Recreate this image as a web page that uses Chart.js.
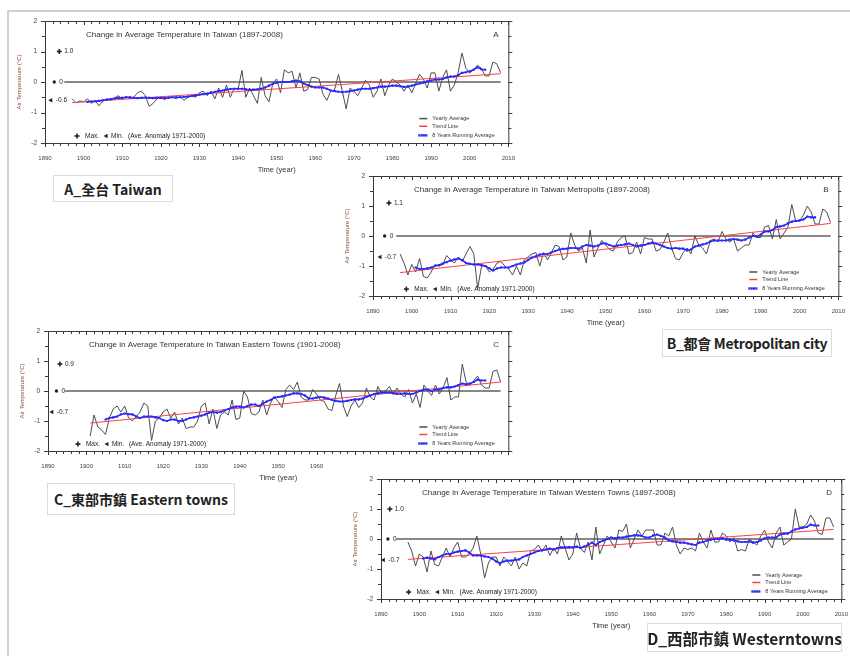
<!DOCTYPE html>
<html>
<head>
<meta charset="utf-8">
<script src="https://cdn.jsdelivr.net/npm/chart.js@4/dist/chart.umd.min.js"></script>
<style>
  body { margin: 0; width: 850px; height: 656px; background: #fff; position: relative; overflow: hidden; }
  .rule-top { position: absolute; z-index: 5; left: 7px; top: 10px; width: 843px; height: 2px; background: #d0d0d0; }
  .rule-left { position: absolute; z-index: 5; left: 7px; top: 10px; width: 2px; height: 646px; background: #d0d0d0; }
  canvas { position: absolute; background: #fff; }
  .tag {
    position: absolute; box-sizing: border-box; background: #fff;
    border: 1px solid #dcdcdc; display: flex; align-items: center; justify-content: center;
    font-family: "Noto Sans CJK TC", "Noto Sans", sans-serif; font-weight: bold; color: #222;
    white-space: nowrap;
  }
</style>
</head>
<body>
<canvas id="cA"></canvas>
<canvas id="cB"></canvas>
<canvas id="cC"></canvas>
<canvas id="cD"></canvas>
<div class="rule-top"></div>
<div class="rule-left"></div>
<div class="tag" style="left:53px;top:175px;width:120px;height:27px;font-size:14px">A_全台 Taiwan</div>
<div class="tag" style="left:662px;top:329px;width:170px;height:28px;font-size:14px;letter-spacing:-0.3px">B_都會 Metropolitan city</div>
<div class="tag" style="left:47px;top:483px;width:188px;height:32px;font-size:14px">C_東部市鎮 Eastern towns</div>
<div class="tag" style="left:647px;top:623px;width:195px;height:29px;font-size:15.5px">D_西部市鎮 Westerntowns</div>
<script>
// ---- data (temperature anomaly, °C) ----
const X_MIN = 1890, X_MAX = 2010
const Y_MIN = -2, Y_MAX = 2

// A: Taiwan, yearly 1897-2008, running avg 1901-2004
const A_YEARLY = [
  -0.55,-0.68,-0.62,-0.65,-0.55,-0.70,-0.62,-0.78,-0.62,-0.55,
  -0.60,-0.52,-0.45,-0.55,-0.48,-0.55,-0.50,-0.35,-0.30,-0.45,
  -0.80,-0.70,-0.55,-0.50,-0.58,-0.48,-0.50,-0.55,-0.48,-0.60,
  -0.50,-0.45,-0.50,-0.35,-0.30,-0.45,-0.30,-0.55,-0.20,-0.50,
  -0.10,-0.50,-0.20,-0.25,0.38,-0.50,-0.20,-0.45,-0.70,0.15,
  -0.45,-0.65,-0.05,0.10,-0.35,0.40,0.30,0.35,-0.20,0.30,
  -0.30,-0.25,0.15,0.15,0.10,-0.40,-0.60,-0.30,-0.25,0.25,
  -0.30,-0.88,-0.20,-0.30,-0.45,-0.20,0.05,-0.10,-0.50,-0.30,
  0.10,-0.45,-0.10,0.10,0.00,-0.10,-0.30,-0.10,-0.35,-0.05,
  0.25,0.10,-0.20,0.30,0.30,-0.30,0.15,0.40,-0.30,-0.10,
  0.30,0.95,0.45,0.30,0.40,0.55,0.45,0.20,0.20,0.65,
  0.60,0.30
]
const A_RUNNING = [
  -0.65,-0.64,-0.63,-0.62,-0.60,-0.58,-0.56,-0.54,-0.52,-0.52,
  -0.50,-0.50,-0.52,-0.53,-0.52,-0.51,-0.52,-0.53,-0.52,-0.52,
  -0.53,-0.52,-0.50,-0.50,-0.50,-0.49,-0.48,-0.46,-0.44,-0.42,
  -0.40,-0.38,-0.35,-0.32,-0.30,-0.28,-0.25,-0.23,-0.22,-0.22,
  -0.22,-0.24,-0.26,-0.25,-0.24,-0.22,-0.18,-0.12,-0.06,-0.02,
  0.00,0.00,0.00,0.02,0.05,0.02,-0.05,-0.10,-0.15,-0.18,
  -0.18,-0.18,-0.22,-0.28,-0.30,-0.32,-0.33,-0.32,-0.30,-0.28,
  -0.25,-0.22,-0.22,-0.22,-0.20,-0.18,-0.15,-0.15,-0.14,-0.12,
  -0.12,-0.14,-0.16,-0.15,-0.12,-0.08,-0.05,-0.02,0.02,0.05,
  0.08,0.08,0.10,0.15,0.18,0.18,0.22,0.30,0.32,0.35,
  0.40,0.48,0.42,0.40
]
const A_TREND = [-0.68, 0.27]
const A_MAXMIN = ['1.0', '0', '-0.6']

// B: Metropolis, yearly 1897-2008
const B_YEARLY = [
  -0.60,-0.90,-1.30,-0.95,-1.20,-0.75,-1.35,-1.40,-1.20,-0.95,
  -1.00,-0.95,-0.65,-0.80,-0.90,-0.70,-0.85,-0.60,-0.35,-0.60,
  -1.75,-1.00,-1.00,-1.20,-1.10,-0.90,-0.85,-1.00,-1.10,-1.30,
  -1.00,-1.30,-0.80,-0.70,-0.60,-0.55,-1.00,-0.55,-0.80,-0.55,
  -0.30,-0.35,-0.80,-0.70,0.10,-0.30,-0.50,-0.40,-0.90,0.20,
  -0.70,-0.40,-0.15,-0.30,-0.45,-0.50,-0.20,-0.05,0.00,-0.60,
  -0.55,-0.20,-0.60,-0.05,-0.10,-0.10,-0.50,-0.45,-0.20,0.10,
  -0.40,-0.75,-0.80,-0.55,-0.40,-0.60,0.00,-0.30,-0.40,-0.60,
  -0.15,-0.10,-0.20,0.15,-0.10,-0.20,-0.10,-0.50,-0.40,-0.30,
  -0.30,0.10,-0.05,-0.05,0.30,0.35,-0.10,0.55,-0.10,0.10,
  0.30,1.05,0.50,0.50,0.70,1.00,0.80,0.40,0.40,0.90,
  0.80,0.45
]
const B_RUNNING = [
  -1.05,-1.10,-1.10,-1.08,-1.05,-1.00,-0.97,-0.92,-0.87,-0.82,
  -0.78,-0.75,-0.80,-0.90,-0.93,-0.95,-0.95,-0.97,-1.00,-1.08,
  -1.15,-1.08,-1.05,-1.05,-1.05,-1.00,-0.95,-0.92,-0.88,-0.80,
  -0.72,-0.68,-0.62,-0.60,-0.60,-0.55,-0.50,-0.45,-0.43,-0.42,
  -0.40,-0.40,-0.42,-0.35,-0.30,-0.32,-0.35,-0.32,-0.25,-0.25,
  -0.30,-0.35,-0.32,-0.30,-0.28,-0.25,-0.30,-0.35,-0.32,-0.30,
  -0.25,-0.22,-0.25,-0.30,-0.35,-0.40,-0.42,-0.40,-0.42,-0.42,
  -0.48,-0.45,-0.35,-0.32,-0.28,-0.25,-0.18,-0.15,-0.15,-0.15,
  -0.15,-0.12,-0.10,-0.12,-0.15,-0.12,-0.05,0.00,-0.02,0.05,
  0.15,0.15,0.20,0.30,0.32,0.35,0.42,0.48,0.50,0.52,
  0.55,0.65,0.62,0.62
]
const B_TREND = [-1.22, 0.42]
const B_MAXMIN = ['1.1', '0', '-0.7']

// C: Eastern towns, yearly 1901-2008, running avg 1905-2004
const C_YEARLY = [
  -1.50,-0.80,-1.20,-1.30,-1.45,-0.90,-0.60,-0.50,-0.70,-0.50,
  -0.90,-1.00,-0.85,-0.70,-0.40,-0.50,-1.65,-1.00,-0.90,-0.70,
  -0.60,-0.90,-0.70,-1.10,-0.90,-1.25,-1.20,-1.20,-1.00,-0.50,
  -0.40,-1.10,-0.60,-1.25,-0.80,-0.70,-0.80,-0.30,-0.95,-0.90,
  0.00,-0.20,-0.75,-0.80,-0.70,-0.30,-0.80,-0.40,-0.20,-0.35,
  -0.55,0.05,0.20,0.05,0.30,-0.20,-0.30,-0.30,0.05,-0.10,
  -0.30,-0.35,-0.60,-0.65,-0.15,0.25,-0.50,-0.85,-0.50,-0.30,
  -0.55,-0.40,0.10,-0.20,-0.30,0.15,-0.10,0.00,0.15,-0.10,
  0.10,-0.10,-0.20,0.05,-0.40,-0.10,-0.55,0.20,0.00,-0.15,
  0.20,-0.10,0.10,0.45,-0.30,-0.20,-0.20,0.90,0.30,0.20,
  0.35,0.50,0.20,0.10,0.10,0.65,0.70,0.30
]
const C_RUNNING = [
  -0.95,-0.90,-0.88,-0.85,-0.78,-0.75,-0.77,-0.78,-0.85,-0.90,
  -0.85,-0.85,-0.85,-0.88,-0.90,-0.97,-1.00,-0.95,-0.95,-1.00,
  -1.00,-0.95,-0.90,-0.88,-0.85,-0.82,-0.78,-0.72,-0.70,-0.72,
  -0.70,-0.65,-0.60,-0.55,-0.52,-0.52,-0.55,-0.50,-0.45,-0.45,
  -0.50,-0.42,-0.35,-0.30,-0.22,-0.20,-0.18,-0.15,-0.12,-0.08,
  -0.08,-0.10,-0.15,-0.25,-0.25,-0.22,-0.20,-0.22,-0.25,-0.30,
  -0.33,-0.35,-0.35,-0.33,-0.30,-0.28,-0.28,-0.25,-0.20,-0.15,
  -0.10,-0.08,-0.05,-0.05,-0.05,-0.08,-0.10,-0.10,-0.08,-0.10,
  -0.10,-0.05,0.00,0.05,0.05,0.00,0.05,0.05,0.10,0.12,
  0.12,0.15,0.20,0.25,0.22,0.25,0.30,0.38,0.35,0.35
]
const C_TREND = [-1.07, 0.30]
const C_MAXMIN = ['0.9', '0', '-0.7']

// D: Western towns, yearly 1897-2008
const D_YEARLY = [
  -0.10,-0.40,-0.90,-0.50,-0.60,-1.10,-0.40,-0.85,-0.90,-0.60,
  -0.30,-0.60,-0.30,-0.10,-0.60,-0.60,-0.50,-0.30,0.10,-0.50,
  -1.30,-0.80,-0.60,-0.60,-0.90,-0.60,-0.75,-0.90,-0.60,-1.00,
  -0.80,-0.90,-0.40,-0.35,-0.20,-0.40,-0.20,-0.55,-0.30,-0.50,
  0.10,-0.30,-0.70,-0.50,0.20,-0.30,-0.45,-0.10,-0.70,0.40,
  -0.50,-0.20,0.10,-0.10,-0.30,0.30,0.25,0.50,-0.30,0.00,
  0.30,0.10,0.30,0.30,0.30,-0.20,-0.20,0.20,0.10,0.40,
  -0.20,-0.50,-0.30,-0.35,-0.30,-0.40,0.20,-0.10,-0.30,0.30,
  -0.10,-0.10,0.20,0.10,-0.10,0.05,-0.40,-0.35,-0.40,0.00,
  -0.10,-0.20,0.10,0.30,-0.10,-0.30,0.20,0.40,-0.20,-0.10,
  0.00,1.00,0.40,0.40,0.50,0.80,0.60,0.20,0.15,0.70,
  0.70,0.40
]
const D_RUNNING = [
  -0.65,-0.62,-0.65,-0.68,-0.60,-0.55,-0.50,-0.50,-0.45,-0.42,
  -0.40,-0.38,-0.45,-0.55,-0.55,-0.55,-0.58,-0.60,-0.65,-0.75,
  -0.80,-0.75,-0.72,-0.72,-0.70,-0.68,-0.60,-0.55,-0.50,-0.45,
  -0.40,-0.38,-0.35,-0.32,-0.35,-0.30,-0.28,-0.28,-0.27,-0.28,
  -0.25,-0.30,-0.25,-0.20,-0.12,-0.20,-0.10,-0.05,0.00,0.05,
  0.02,0.05,0.05,0.08,0.10,0.12,0.12,0.10,0.05,0.05,
  0.12,0.15,0.10,0.05,-0.05,-0.08,-0.10,-0.12,-0.12,-0.15,
  -0.18,-0.20,-0.12,-0.10,-0.05,-0.02,0.00,0.00,0.02,-0.02,
  -0.02,-0.05,-0.08,-0.10,-0.10,-0.08,-0.12,-0.10,-0.05,0.02,
  0.05,0.05,0.05,0.15,0.18,0.18,0.25,0.32,0.35,0.38,
  0.40,0.48,0.45,0.45
]
const D_TREND = [-0.68, 0.32]
const D_MAXMIN = ['1.0', '0', '-0.7']

const LEGEND_LABELS = ['Yearly Average', 'Trend Line', '8 Years Running Average']

// ---- styling ----
const FONT = '"Liberation Sans", Arial, sans-serif'
const INK = '#333'
const COL_YEARLY = '#4d4d4d'
const COL_TREND = '#ff4040'
const COL_RUN = '#2a2aff'

const pts = (start, vals) => vals.map((v, i) => ({ x: start + i, y: v }))

// frame, tick marks, in-plot notes and legend
const decor = {
  id: 'decor',
  afterDraw(chart, args, o) {
    const { ctx, chartArea: a, scales: { x, y } } = chart
    const seg = (x1, y1, x2, y2) => { ctx.beginPath(); ctx.moveTo(x1, y1); ctx.lineTo(x2, y2); ctx.stroke() }
    ctx.save()
    ctx.strokeStyle = '#3a3a3a'
    ctx.lineWidth = 1
    ctx.strokeRect(a.left + 0.5, a.top + 0.5, a.right - a.left, a.bottom - a.top)
    for (let yr = X_MIN; yr <= X_MAX; yr += 2) {
      const px = Math.round(x.getPixelForValue(yr)) + 0.5
      const len = yr % 10 === 0 ? 4 : 3
      seg(px, a.bottom, px, a.bottom + len)
      seg(px, a.top, px, a.top + len)
    }
    for (let v = Y_MIN; v <= Y_MAX; v += 0.5) {
      const py = Math.round(y.getPixelForValue(v)) + 0.5
      const len = Number.isInteger(v) ? 4 : 3
      seg(a.left, py, a.left - len, py)
      seg(a.right, py, a.right + len, py)
    }

    ctx.fillStyle = INK
    ctx.textBaseline = 'middle'
    ctx.textAlign = 'left'
    // title + letter
    ctx.font = `8px ${FONT}`
    ctx.fillText(o.title, a.left + 41, y.getPixelForValue(1.55))
    ctx.fillText(o.letter, a.right - 15, y.getPixelForValue(1.55))

    // max / zero / min markers
    const glyph = (kind, gx, gy) => {
      ctx.beginPath()
      if (kind === 'max') {
        ctx.lineWidth = 1.6
        seg(gx - 2.5, gy, gx + 2.5, gy)
        seg(gx, gy - 2.5, gx, gy + 2.5)
        ctx.lineWidth = 1
      } else if (kind === 'zero') {
        ctx.arc(gx, gy, 1.7, 0, Math.PI * 2)
        ctx.fill()
      } else {
        ctx.moveTo(gx - 2.5, gy)
        ctx.lineTo(gx + 1.5, gy - 2.2)
        ctx.lineTo(gx + 1.5, gy + 2.2)
        ctx.closePath()
        ctx.fill()
      }
    }
    ctx.strokeStyle = '#222'
    ctx.fillStyle = '#222'
    ctx.font = `6.5px ${FONT}`
    const kinds = ['max', 'zero', 'min']
    o.marks.forEach((label, i) => {
      const gx = x.getPixelForValue(o.markX[i])
      const gy = y.getPixelForValue(parseFloat(label))
      glyph(kinds[i], gx, gy)
      ctx.fillText(label, gx + 5, gy)
    })

    // Max / Min key
    const ky = y.getPixelForValue(-1.77)
    const kx = x.getPixelForValue(o.keyX)
    glyph('max', kx, ky)
    ctx.fillText('Max.', kx + 8, ky)
    glyph('min', kx + 29, ky)
    ctx.fillText('Min.', kx + 34, ky)
    ctx.fillText('(Ave. Anomaly 1971-2000)', kx + 51, ky)

    // legend
    const lx = a.right - 89
    ctx.font = `5.5px ${FONT}`
    const rows = [-1.2, -1.45, -1.75]
    rows.forEach((v, i) => {
      const ly = y.getPixelForValue(v)
      if (i === 0) { ctx.strokeStyle = COL_YEARLY; ctx.lineWidth = 1.5; seg(lx, ly, lx + 8, ly) }
      if (i === 1) { ctx.strokeStyle = COL_TREND; ctx.lineWidth = 1.5; seg(lx, ly, lx + 8, ly) }
      if (i === 2) {
        ctx.fillStyle = COL_RUN
        for (let k = 0; k < 4; k++) ctx.fillRect(lx + k * 2.3 - 1, ly - 1.2, 2.2, 2.4)
      }
      ctx.fillStyle = INK
      ctx.fillText(LEGEND_LABELS[i], lx + 13, ly)
    })
    ctx.restore()
  },
}

function renderPanel(p) {
  const canvas = document.getElementById(p.id)
  const [l, t, r, b] = p.area
  const w = (r - l) + 45 + 12
  const h = (b - t) + p.padTop + 36
  canvas.width = w
  canvas.height = h
  canvas.style.left = (l - 45) + 'px'
  canvas.style.top = (t - p.padTop) + 'px'

  new Chart(canvas, {
    type: 'line',
    data: {
      datasets: [
        {
          label: LEGEND_LABELS[2],
          data: pts(p.runStart, p.running),
          borderColor: COL_RUN,
          backgroundColor: COL_RUN,
          borderWidth: 1.6,
          pointStyle: 'rect',
          pointRadius: 1.5,
          pointBorderWidth: 0,
        },
        {
          label: LEGEND_LABELS[1],
          data: [{ x: p.yearStart, y: p.trend[0] }, { x: 2008, y: p.trend[1] }],
          borderColor: COL_TREND,
          borderWidth: 1,
          pointRadius: 0,
        },
        {
          label: LEGEND_LABELS[0],
          data: pts(p.yearStart, p.yearly),
          borderColor: COL_YEARLY,
          borderWidth: 1,
          pointRadius: 0,
        },
        {
          label: 'zero',
          data: [{ x: p.zeroFrom, y: 0 }, { x: 2008, y: 0 }],
          borderColor: '#111',
          borderWidth: 1.2,
          pointRadius: 0,
        },
      ],
    },
    options: {
      responsive: false,
      animation: false,
      events: [],
      layout: { padding: { left: 0, top: p.padTop, right: 12, bottom: 0 } },
      plugins: {
        legend: { display: false },
        tooltip: { enabled: false },
        decor: { title: p.title, letter: p.letter, marks: p.marks, markX: p.markX, keyX: p.keyX },
      },
      scales: {
        x: {
          type: 'linear',
          min: X_MIN,
          max: X_MAX,
          grid: { display: false, drawTicks: false },
          border: { display: false },
          ticks: { stepSize: 10, padding: 12, color: '#444', font: { family: FONT, size: 6 }, callback: v => String(v) },
          title: { display: true, text: 'Time (year)', color: '#333', font: { family: FONT, size: 7.5 }, padding: { bottom: 5 } },
          afterFit: s => { s.height = 36 },
        },
        y: {
          min: Y_MIN,
          max: Y_MAX,
          grid: { display: false, drawTicks: false },
          border: { display: false },
          ticks: { stepSize: 1, padding: 8, color: '#444', font: { family: FONT, size: 6.5 }, callback: v => String(v) },
          title: { display: true, text: 'Air Temperature (°C)', color: '#8a4a3a', font: { family: FONT, size: 6 }, padding: { top: 16 } },
          afterFit: s => { s.width = 45 },
        },
      },
    },
    plugins: [decor],
  })
}

document.fonts.ready.then(() => {
  renderPanel({
    id: 'cA', area: [45, 21, 515, 143], padTop: 12,
    yearly: A_YEARLY, yearStart: 1897, running: A_RUNNING, runStart: 1901, trend: A_TREND, zeroFrom: 1895,
    title: 'Change in Average Temperature in Taiwan (1897-2008)', letter: 'A',
    marks: A_MAXMIN, markX: [1893.7, 1892.4, 1891.5], keyX: 1898.3,
  })
  renderPanel({
    id: 'cB', area: [373, 176, 845, 296], padTop: 12,
    yearly: B_YEARLY, yearStart: 1897, running: B_RUNNING, runStart: 1901, trend: B_TREND, zeroFrom: 1896,
    title: 'Change in Average Temperature in Taiwan Metropolis (1897-2008)', letter: 'B',
    marks: B_MAXMIN, markX: [1894.1, 1893.0, 1891.8], keyX: 1898.6,
  })
  renderPanel({
    id: 'cC', area: [48, 331, 515, 451], padTop: 12,
    yearly: C_YEARLY, yearStart: 1901, running: C_RUNNING, runStart: 1905, trend: C_TREND, zeroFrom: 1894.5,
    title: 'Change in Average Temperature in Taiwan Eastern Towns (1901-2008)', letter: 'C',
    marks: C_MAXMIN, markX: [1893.1, 1892.2, 1891.0], keyX: 1897.8,
  })
  renderPanel({
    id: 'cD', area: [381, 479, 848, 599], padTop: 21,
    yearly: D_YEARLY, yearStart: 1897, running: D_RUNNING, runStart: 1901, trend: D_TREND, zeroFrom: 1894,
    title: 'Change in Average Temperature in Taiwan Western Towns (1897-2008)', letter: 'D',
    marks: D_MAXMIN, markX: [1892.3, 1891.8, 1890.6], keyX: 1897.2,
  })
})
</script>
</body>
</html>
